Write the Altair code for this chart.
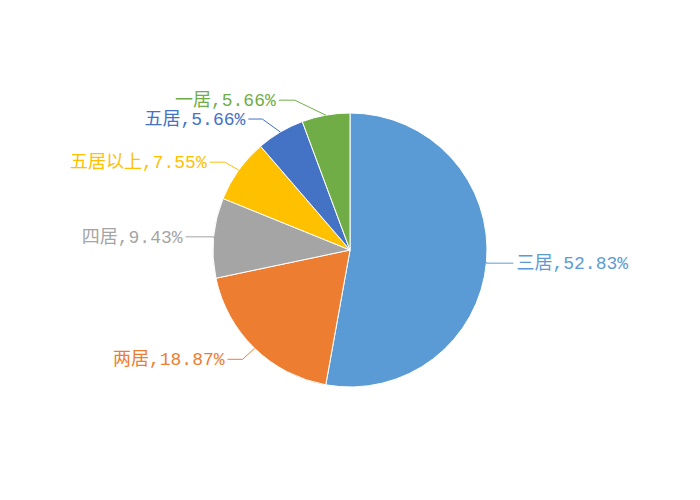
import altair as alt
import pandas as pd

# Data
categories = ["三居", "两居", "四居", "五居以上", "五居", "一居"]
counts = [28, 10, 5, 4, 3, 3]
colors = ["#5B9BD5", "#ED7D31", "#A5A5A5", "#FFC000", "#4472C4", "#70AD47"]

# Label layout (elbow offset from slice edge, horizontal segment length, side)
label_dx = [0, -12, 0, -14, -18, -31]
label_dy = [1, 11, -1, -8, -13, -15]
label_len = [27, 15, 28, 15, 14, 16]
label_side = [1, -1, -1, -1, -1, -1]

W, H = 684, 484
R = 137
CX, CY = W / 2, H / 2

df = pd.DataFrame({
    "cat": categories,
    "n": counts,
    "ord": list(range(len(categories))),
    "dx": label_dx,
    "dy": label_dy,
    "len": label_len,
    "side": label_side,
})

color_scale = alt.Scale(domain=categories, range=colors)

base = alt.Chart(df).transform_joinaggregate(
    total="sum(n)"
).transform_window(
    cum="sum(n)", sort=[alt.SortField("ord")], frame=[None, 0]
).transform_calculate(
    mid="(datum.cum - datum.n/2) / datum.total * 2 * PI",
    pct="datum.n / datum.total * 100",
).transform_calculate(
    ex=f"{CX} + {R} * sin(datum.mid)",
    ey=f"{CY} - {R} * cos(datum.mid)",
).transform_calculate(
    elx="datum.ex + datum.dx",
    ely="datum.ey + datum.dy",
).transform_calculate(
    endx="datum.elx + datum.side * datum.len",
).transform_calculate(
    tx="datum.endx + datum.side * 3",
    label="datum.cat + ',' + format(datum.pct, '.2f') + '%'",
)

arcs = alt.Chart(df).mark_arc(outerRadius=R, stroke="white", strokeWidth=1).encode(
    theta=alt.Theta("n:Q", stack=True),
    order=alt.Order("ord:Q"),
    color=alt.Color("cat:N", scale=color_scale, legend=None),
)

seg1 = base.mark_rule(strokeWidth=1).encode(
    x=alt.X("ex:Q", scale=None, axis=None),
    y=alt.Y("ey:Q", scale=None, axis=None),
    x2="elx:Q",
    y2="ely:Q",
    color=alt.Color("cat:N", scale=color_scale, legend=None),
)

seg2 = base.mark_rule(strokeWidth=1).encode(
    x=alt.X("elx:Q", scale=None, axis=None),
    y=alt.Y("ely:Q", scale=None, axis=None),
    x2="endx:Q",
    y2="ely:Q",
    color=alt.Color("cat:N", scale=color_scale, legend=None),
)

text_font = dict(font="Liberation Mono, Noto Sans CJK SC", fontSize=18, baseline="middle", dy=1)

text_right = base.transform_filter("datum.side > 0").mark_text(align="left", **text_font).encode(
    x=alt.X("tx:Q", scale=None, axis=None),
    y=alt.Y("ely:Q", scale=None, axis=None),
    text="label:N",
    color=alt.Color("cat:N", scale=color_scale, legend=None),
)

text_left = base.transform_filter("datum.side < 0").mark_text(align="right", **text_font).encode(
    x=alt.X("tx:Q", scale=None, axis=None),
    y=alt.Y("ely:Q", scale=None, axis=None),
    text="label:N",
    color=alt.Color("cat:N", scale=color_scale, legend=None),
)

chart = alt.layer(arcs, seg1, seg2, text_right, text_left).properties(
    width=W, height=H,
    autosize=alt.AutoSizeParams(type="none"),
    padding=0,
).configure_view(stroke=None)

chart.save("out.html", embed_options={"renderer": "svg", "actions": False})
